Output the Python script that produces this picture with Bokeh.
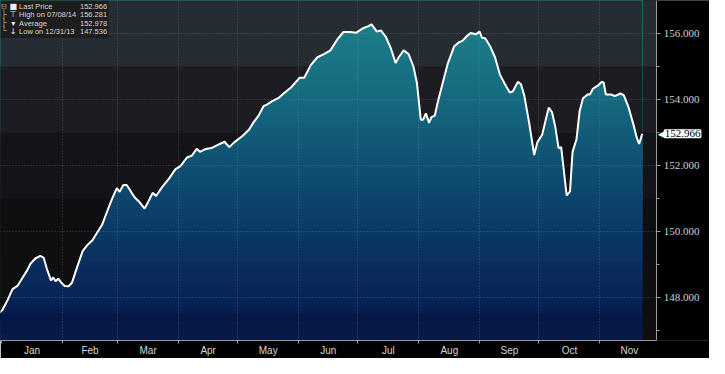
import numpy as np
from bokeh.plotting import figure
from bokeh.models import FixedTicker, NumeralTickFormatter, Label, BoxAnnotation
from bokeh.embed import file_html
from bokeh.resources import INLINE

# ---- data (x = days since 2013-12-31) ----
days = [0, 1.6, 4.1, 6.6, 9.1, 11.6, 14.1, 15.7, 18.2, 20.7, 22.4, 24.0, 26.2, 27.3, 28.5,
        29.8, 31.4, 33.1, 35.1, 36.8, 38.9, 42.2, 44.7, 47.2, 49.7, 52.2, 54.6, 57.1, 59.6,
        61.0, 62.9, 64.6, 66.2, 67.1, 68.7, 71.2, 73.7, 76.2, 77.8, 79.5, 82.8, 86.1, 89.4,
        91.9, 95.2, 97.7, 100.2, 101.8, 104.3, 107.6, 110.9, 114.3, 116.7, 119.2, 123.4,
        126.7, 129.2, 131.6, 134.1, 135.8, 138.3, 141.6, 144.9, 148.2, 152.4, 154.8, 158.1,
        161.5, 164.8, 168.1, 171.4, 174.7, 178.0, 181.3, 184.6, 187.1, 189.0, 191.6, 193.7,
        196.2, 198.7, 201.2, 202.8, 205.3, 207.8, 210.3, 212.0, 214.0, 215.2, 216.6, 218.2,
        219.4, 221.1, 222.7, 225.2, 227.7, 231.0, 233.5, 235.1, 237.6, 239.3, 242.1, 243.8,
        245.1, 246.7, 249.2, 251.7, 254.2, 256.7, 259.2, 260.8, 263.3, 264.9, 266.6, 269.1,
        271.6, 273.2, 275.7, 277.4, 279.0, 280.7, 282.3, 284.0, 285.3, 286.5, 288.1, 289.8,
        291.1, 293.1, 294.7, 296.4, 298.9, 300.0, 301.4, 303.9, 306.0, 306.9, 308.0, 310.5,
        312.6, 315.4, 317.1, 319.6, 322.1, 323.7, 324.9, 326.5]
prices = [147.536, 147.636, 147.923, 148.258, 148.353, 148.594, 148.832, 149.024, 149.184,
          149.262, 149.213, 148.880, 148.516, 148.611, 148.496, 148.573, 148.450, 148.353,
          148.344, 148.450, 148.832, 149.405, 149.597, 149.740, 149.978, 150.217, 150.601,
          150.982, 151.317, 151.203, 151.412, 151.412, 151.269, 151.174, 151.031, 150.887,
          150.695, 150.982, 151.174, 151.077, 151.363, 151.604, 151.891, 151.986, 152.244,
          152.301, 152.510, 152.416, 152.493, 152.530, 152.625, 152.723, 152.559, 152.703,
          152.895, 153.084, 153.325, 153.514, 153.801, 153.849, 153.944, 154.042, 154.214,
          154.374, 154.661, 154.661, 155.045, 155.283, 155.378, 155.492, 155.808, 156.049,
          156.049, 156.029, 156.163, 156.221, 156.281, 156.066, 156.095, 155.905, 155.570,
          155.111, 155.283, 155.492, 155.378, 154.996, 154.518, 153.391, 153.391, 153.583,
          153.296, 153.468, 153.514, 153.944, 154.518, 155.091, 155.619, 155.742, 155.779,
          155.934, 156.020, 155.980, 156.066, 155.877, 155.857, 155.619, 155.283, 154.758,
          154.472, 154.214, 154.251, 154.538, 154.466, 154.113, 153.276, 152.321, 152.703,
          152.941, 153.371, 153.755, 153.611, 153.181, 152.530, 152.559, 151.937, 151.097,
          151.220, 152.416, 152.797, 153.657, 154.042, 154.165, 154.157, 154.328, 154.423,
          154.538, 154.518, 154.156, 154.156, 154.108, 154.185, 154.136, 153.755, 153.227,
          152.846, 152.654, 152.966]

month_names = ["Jan", "Feb", "Mar", "Apr", "May", "Jun", "Jul", "Aug", "Sep", "Oct", "Nov"]
month_starts = [1, 32, 60, 91, 121, 152, 182, 213, 244, 274, 305, 335]
y_major = [148, 150, 152, 154, 156]
y_minor = [147, 149, 151, 153, 155]

legend_labels = ["Last Price", "High on 07/08/14", "Average", "Low on 12/31/13"]
average_value = 152.978

# ---- layout (reference image is 725x374, drawn here at 709x358) ----
W, H = 709, 358
SX, SY = W / 725, H / 374
FH = 344                      # frame height; x labels below
PXD = 2.013 * SX              # px per day
PXU = 34.875 * SY             # px per price unit
x0 = 0.5
x1 = x0 + W / PXD
axis_day = 672 * SX / PXD     # where the price axis sits
yhi = 156 + 35 * SY / PXU
ylo = yhi - FH / PXU


def dx(ref_x):
    """reference-image x pixel -> day"""
    return ref_x / 2.013


def dy(ref_y):
    """reference-image y pixel -> price"""
    return 156 - (ref_y - 35) / 34.875


p = figure(width=W, height=H, x_range=(x0, x1), y_range=(ylo, yhi),
           toolbar_location=None, output_backend="svg", y_axis_location="right",
           min_border_left=0, min_border_top=0, min_border_right=0,
           min_border_bottom=H - FH, border_fill_color="black",
           background_fill_color="#0f0f11", outline_line_color=None)

# background bands (layered from bottom up)
bg_bottoms = [ylo - 1, 151, 153, 155]
bg_colors = ["#0f0f11", "#141418", "#1c1c22", "#252c32"]
p.quad(left=x0 - 5, right=axis_day, bottom=bg_bottoms, top=yhi + 1,
       fill_color=bg_colors, line_color=None, level="image")

# gradient under the curve (full bands, later masked above the line)
stops_v = [146.5, 147.2, 147.3, 147.45, 148.0, 150.0, 152.0, 154.0, 156.0, 157.0]
stops_c = ["#081b4c", "#071846", "#040e36", "#061b4c", "#082457", "#0b3966", "#0f5072",
           "#15697e", "#1d7c88", "#1f8189"]


def hex2rgb(h):
    return [int(h[i:i + 2], 16) for i in (1, 3, 5)]


rgb = np.array([hex2rgb(c) for c in stops_c], dtype=float)
band_lo = np.arange(146.5, 157.2, 0.2)
band_cols = []
for b in band_lo:
    mid = b + 0.1
    c = [int(round(np.interp(mid, stops_v, rgb[:, k]))) for k in range(3)]
    band_cols.append("#%02x%02x%02x" % tuple(c))
p.quad(left=min(days), right=max(days), bottom=band_lo, top=yhi + 1,
       fill_color=band_cols, line_color=None, level="image")

# mask the area above the line with the banded background
parr = np.array(prices)
p.varea(x=days, y1=prices, y2=yhi + 1, fill_color=bg_colors[3], level="image")
for b, col in [(155, bg_colors[2]), (153, bg_colors[1]), (151, bg_colors[0])]:
    p.varea(x=days, y1=prices, y2=np.maximum(parr, b), fill_color=col, level="image")

# price line
p.line(days, prices, line_color="white", line_width=2)

# black strip right of the price axis
p.quad(left=axis_day, right=x1 + 5, bottom=ylo - 1, top=yhi + 1,
       fill_color="black", line_color=None)

# x axis
mids = [(a + b) / 2 for a, b in zip(month_starts[:-1], month_starts[1:])]
p.xaxis.ticker = FixedTicker(ticks=mids, minor_ticks=month_starts[:-1])
p.xaxis.major_label_overrides = {m: n for m, n in zip(mids, month_names)}
p.xaxis.bounds = (x0, axis_day)
p.xaxis.major_tick_out = 0
p.xaxis.major_tick_in = 0
p.xaxis.minor_tick_out = 3
p.xaxis.minor_tick_in = 0
p.xaxis.minor_tick_line_color = "#9a9a9a"
p.xaxis.major_label_standoff = 1
p.xaxis.axis_line_color = "#9a9a9a"
p.xaxis.major_label_text_color = "#d6d6d6"
p.xaxis.major_label_text_font = "Liberation Sans"
p.xaxis.major_label_text_font_size = "10px"

# y axis (price scale) at a fixed location inside the plot
p.yaxis.fixed_location = axis_day
p.yaxis.ticker = FixedTicker(ticks=y_major, minor_ticks=y_minor)
p.yaxis.formatter = NumeralTickFormatter(format="0.000")
p.yaxis.axis_line_color = "#9a9a9a"
p.yaxis.major_tick_out = 4
p.yaxis.major_tick_in = 0
p.yaxis.minor_tick_out = 3
p.yaxis.minor_tick_in = 0
p.yaxis.major_tick_line_color = "#9a9a9a"
p.yaxis.minor_tick_line_color = "#9a9a9a"
p.yaxis.major_label_standoff = 3
p.yaxis.major_label_text_color = "#d0d0d0"
p.yaxis.major_label_text_font = "Liberation Serif"
p.yaxis.major_label_text_font_size = "11px"

# grids
p.xgrid.ticker = FixedTicker(ticks=month_starts[1:-1])
for g in (p.xgrid, p.ygrid):
    g.grid_line_color = "#8a96a0"
    g.grid_line_alpha = 0.4
    g.grid_line_dash = "1 2"
    g.grid_line_width = 1

# legend box (Bloomberg style)
p.add_layout(BoxAnnotation(left=x0, right=dx(112), top=yhi, bottom=dy(40),
                           fill_color="#1d1d1d", fill_alpha=1.0,
                           line_color="#3a3a3a", line_width=1))
legend_values = [prices[-1], max(prices), average_value, min(prices)]
icons = ["■", "⊤", "▾", "↓"]
tree = ["⊟", "├", "├", "└"]
rows_y = [6, 15.3, 24, 32.7]
for tr, ic, lab, val, ry in zip(tree, icons, legend_labels, legend_values, rows_y):
    p.add_layout(Label(x=dx(4.5), y=dy(ry), text=tr, text_align="center",
                       text_baseline="middle", text_color="#9a9a9a",
                       text_font="DejaVu Sans Mono", text_font_size="9px"))
    p.add_layout(Label(x=dx(14), y=dy(ry), text=ic, text_align="center",
                       text_baseline="middle", text_color="#eeeeee",
                       text_font="DejaVu Sans", text_font_size="8px"))
    p.add_layout(Label(x=dx(20), y=dy(ry), text=lab, text_align="left",
                       text_baseline="middle", text_color="#d8d8d8",
                       text_font="Liberation Sans", text_font_size="7.5px"))
    p.add_layout(Label(x=dx(110), y=dy(ry), text="%.3f" % val, text_align="right",
                       text_baseline="middle", text_color="#d8d8d8",
                       text_font="Liberation Sans", text_font_size="7.5px"))

# last-price tag on the price axis
p.add_layout(Label(x=axis_day, y=prices[-1], x_offset=8, text="%.3f" % prices[-1],
                   text_align="left", text_baseline="middle", text_color="black",
                   background_fill_color="white", background_fill_alpha=1.0,
                   border_line_color="white", border_line_width=2,
                   text_font="Liberation Serif", text_font_size="11px"))
p.add_layout(Label(x=axis_day, y=prices[-1], x_offset=1, text="◀", text_align="left",
                   text_baseline="middle", text_color="white",
                   text_font="DejaVu Sans", text_font_size="9px"))

open("out.html", "w").write(file_html(p, INLINE))
